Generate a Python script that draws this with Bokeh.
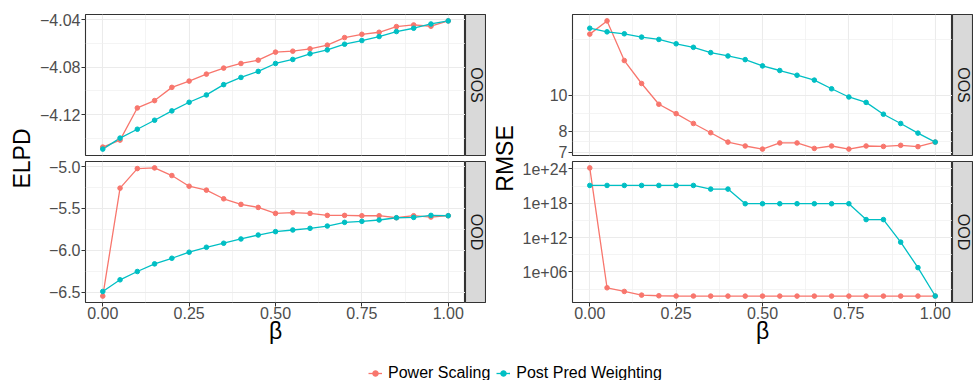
import math
from bokeh.plotting import figure
from bokeh.layouts import row, column
from bokeh.models import (Range1d, FixedTicker, CustomJSTickFormatter, Label,
                          Legend, LegendItem)
from bokeh.embed import file_html
from bokeh.resources import INLINE

# ---------------- data ----------------
beta = [0.00, 0.05, 0.10, 0.15, 0.20, 0.25, 0.30, 0.35, 0.40, 0.45, 0.50,
        0.55, 0.60, 0.65, 0.70, 0.75, 0.80, 0.85, 0.90, 0.95, 1.00]

elpd_oos_power = [-4.1475, -4.1416, -4.1144, -4.1082, -4.0970, -4.0917, -4.0858,
                  -4.0807, -4.0768, -4.0740, -4.0672, -4.0664, -4.0644, -4.0613,
                  -4.0549, -4.0521, -4.0504, -4.0456, -4.0442, -4.0453, -4.0408]
elpd_oos_ppw = [-4.1492, -4.1399, -4.1324, -4.1248, -4.1169, -4.1096, -4.1034,
                -4.0947, -4.0886, -4.0835, -4.0768, -4.0734, -4.0686, -4.0653,
                -4.0605, -4.0574, -4.0540, -4.0498, -4.0470, -4.0434, -4.0408]
elpd_ood_power = [-6.548, -5.261, -5.028, -5.020, -5.111, -5.238, -5.285,
                  -5.388, -5.455, -5.491, -5.562, -5.554, -5.562, -5.586,
                  -5.586, -5.590, -5.590, -5.614, -5.590, -5.606, -5.590]
elpd_ood_ppw = [-6.493, -6.354, -6.255, -6.164, -6.097, -6.025, -5.966,
                -5.918, -5.867, -5.820, -5.780, -5.760, -5.740, -5.713,
                -5.669, -5.657, -5.641, -5.614, -5.610, -5.586, -5.590]
rmse_oos_power = [14.66, 15.92, 12.43, 10.77, 9.46, 8.92, 8.39, 7.92, 7.47, 7.29,
                  7.15, 7.43, 7.43, 7.18, 7.29, 7.15, 7.29, 7.27, 7.32, 7.26, 7.47]
rmse_oos_ppw = [15.21, 14.87, 14.69, 14.39, 14.18, 13.80, 13.50, 13.06, 12.79, 12.50,
                12.02, 11.68, 11.34, 11.00, 10.42, 9.90, 9.57, 8.89, 8.39, 7.90, 7.47]
rmse_ood_power = [1.5e24, 1.7e3, 3.9e2, 89, 69, 62, 61, 60, 60, 60, 60,
                  60, 60, 60, 60, 60, 60, 60, 60, 60, 61]
rmse_ood_ppw = [1.3e21, 1.3e21, 1.3e21, 1.3e21, 1.3e21, 1.3e21, 1.3e21,
                3.0e20, 3.0e20, 8.3e17, 8.3e17, 8.3e17, 8.3e17, 8.3e17,
                8.3e17, 8.3e17, 1.4e15, 1.4e15, 1.6e11, 5.6e6, 62]

series_names = ["Power Scaling", "Post Pred Weighting"]
x_ticks = [0.0, 0.25, 0.5, 0.75, 1.0]
x_minor = [0.125, 0.375, 0.625, 0.875]
elpd_oos_ticks = [-4.12, -4.08, -4.04]
elpd_oos_minor = [-4.14, -4.10, -4.06]
elpd_ood_ticks = [-6.5, -6.0, -5.5, -5.0]
elpd_ood_minor = [-6.25, -5.75, -5.25]
rmse_oos_ticks = [7, 8, 10]
rmse_oos_minor = [7.483, 8.944, 14.142]
rmse_ood_ticks = [1e6, 1e12, 1e18, 1e24]
rmse_ood_minor = [1e3, 1e9, 1e15, 1e21]

# ---------------- style ----------------
RED = "#F8766D"
TEAL = "#00BFC4"
FONT = "Liberation Sans"
FRAME_H = 141
TOP_B = 14
GAP_T = 1
GAP_B = 5
BOT_B = 56
LEG_H = 380 - (TOP_B + FRAME_H + GAP_B) - (GAP_T + FRAME_H + BOT_B)
PT_SIZE = 4.6


def expand(lo, hi, f=0.05):
    d = (hi - lo) * f
    return lo - d, hi + d


xr = expand(min(beta), max(beta))


def make_panel(yp, yw, ticks, minor, fmt, log, bottom, left_b, frame_w):
    if log:
        lo, hi = expand(math.log10(min(yp + yw)), math.log10(max(yp + yw)))
        yr = Range1d(10 ** lo, 10 ** hi)
    else:
        lo, hi = expand(min(yp + yw), max(yp + yw))
        yr = Range1d(lo, hi)
    p = figure(frame_width=frame_w, frame_height=FRAME_H,
               min_border_left=left_b, min_border_right=0,
               min_border_top=(GAP_T if bottom else TOP_B),
               min_border_bottom=(BOT_B if bottom else GAP_B),
               x_range=Range1d(*xr), y_range=yr,
               y_axis_type=("log" if log else "linear"),
               toolbar_location=None, output_backend="svg")
    p.background_fill_color = "white"
    p.border_fill_color = "white"
    p.outline_line_color = "#333333"
    p.outline_line_width = 1.1

    xt = FixedTicker(ticks=x_ticks, minor_ticks=x_minor)
    yt = FixedTicker(ticks=ticks, minor_ticks=minor)
    p.xaxis.ticker = xt
    p.xgrid.ticker = xt
    p.yaxis.ticker = yt
    p.ygrid.ticker = yt
    for g in (p.xgrid, p.ygrid):
        g.grid_line_color = "#EBEBEB"
        g.grid_line_width = 1.1
        g.minor_grid_line_color = "#EFEFEF"
        g.minor_grid_line_width = 0.7
    p.yaxis.formatter = CustomJSTickFormatter(code=fmt)
    p.xaxis.formatter = CustomJSTickFormatter(code="return tick.toFixed(2);")
    for ax in p.axis:
        ax.axis_line_color = None
        ax.major_tick_line_color = "#333333"
        ax.major_tick_out = 4
        ax.major_tick_in = 0
        ax.minor_tick_line_color = None
        ax.major_label_text_font = FONT
        ax.major_label_text_font_size = "16px"
        ax.major_label_text_color = "#4D4D4D"
    p.yaxis.major_label_standoff = 1
    if bottom:
        p.xaxis.major_label_standoff = 0
        p.xaxis.axis_label = "\u03b2"
        p.xaxis.axis_label_text_font = FONT
        p.xaxis.axis_label_text_font_size = "23px"
        p.xaxis.axis_label_text_font_style = "normal"
        p.xaxis.axis_label_text_color = "black"
        p.xaxis.axis_label_standoff = -4
    else:
        p.xaxis.visible = False

    p.line(beta, yp, color=RED, line_width=1.3)
    p.line(beta, yw, color=TEAL, line_width=1.3)
    p.scatter(beta, yp, color=RED, size=PT_SIZE)
    p.scatter(beta, yw, color=TEAL, size=PT_SIZE)
    return p


def make_strip(text, bottom, w=21):
    s = figure(frame_width=w, frame_height=FRAME_H,
               min_border_left=0, min_border_right=0,
               min_border_top=(GAP_T if bottom else TOP_B),
               min_border_bottom=(BOT_B if bottom else GAP_B),
               x_range=Range1d(0, 1), y_range=Range1d(0, 1),
               x_axis_location=None, y_axis_location=None,
               toolbar_location=None, output_backend="svg")
    s.grid.visible = False
    s.background_fill_color = "#D9D9D9"
    s.border_fill_color = "white"
    s.outline_line_color = "#333333"
    s.outline_line_width = 1.1
    s.add_layout(Label(x=0.5, y=0.5, text=text, angle=-math.pi / 2,
                       text_align="center", text_baseline="middle",
                       text_font=FONT, text_font_size="16px",
                       text_color="#1A1A1A"))
    return s


def make_ylabel(text, w, cx):
    h = TOP_B + FRAME_H + GAP_B + GAP_T + FRAME_H + BOT_B
    f = figure(width=w, height=h, min_border=0,
               x_range=Range1d(0, w), y_range=Range1d(0, h),
               x_axis_location=None, y_axis_location=None,
               toolbar_location=None, output_backend="svg")
    f.grid.visible = False
    f.outline_line_color = None
    f.border_fill_color = "white"
    cy = h - (TOP_B + (FRAME_H * 2 + GAP_B + GAP_T) / 2)
    f.add_layout(Label(x=cx, y=cy, text=text, angle=math.pi / 2,
                       text_align="center", text_baseline="middle",
                       text_font=FONT, text_font_size="23px",
                       text_color="black"))
    return f


fmt2 = "return tick.toFixed(2).replace('-', '\\u2212');"
fmt1 = "return tick.toFixed(1).replace('-', '\\u2212');"
fmt_int = "return String(Math.round(tick));"
fmt_e = ("const e = Math.round(Math.log10(tick));"
         "return '1e+' + (e < 10 ? '0' + e : String(e));")

pA = make_panel(elpd_oos_power, elpd_oos_ppw, elpd_oos_ticks, elpd_oos_minor,
                fmt2, False, False, 50, 380)
pC = make_panel(elpd_ood_power, elpd_ood_ppw, elpd_ood_ticks, elpd_ood_minor,
                fmt1, False, True, 50, 380)
pB = make_panel(rmse_oos_power, rmse_oos_ppw, rmse_oos_ticks, rmse_oos_minor,
                fmt_int, True, False, 54, 380)
pD = make_panel(rmse_ood_power, rmse_ood_ppw, rmse_ood_ticks, rmse_ood_minor,
                fmt_e, True, True, 54, 380)

sA = make_strip("OOS", False)
sC = make_strip("OOD", True)
sB = make_strip("OOS", False)
sD = make_strip("OOD", True)

lblL = make_ylabel("ELPD", 35, 21)
lblR = make_ylabel("RMSE", 32, 18)

# ---------------- legend ----------------
lf = figure(width=974, height=LEG_H, min_border=0,
            x_range=Range1d(0, 1), y_range=Range1d(0, 1),
            x_axis_location=None, y_axis_location=None,
            toolbar_location=None, output_backend="svg")
lf.grid.visible = False
lf.outline_line_color = None
lf.border_fill_color = "white"
# the series themselves (they fall outside this strip's ranges; only the legend keys show)
l1 = lf.line(beta, elpd_oos_power, color=RED, line_width=1.3)
m1 = lf.scatter(beta, elpd_oos_power, color=RED, size=PT_SIZE)
l2 = lf.line(beta, elpd_oos_ppw, color=TEAL, line_width=1.3)
m2 = lf.scatter(beta, elpd_oos_ppw, color=TEAL, size=PT_SIZE)
legend = Legend(items=[LegendItem(label=series_names[0], renderers=[l1, m1]),
                       LegendItem(label=series_names[1], renderers=[l2, m2])],
                orientation="horizontal", location=(368, -2),
                padding=0, margin=0, spacing=6, label_standoff=6,
                glyph_width=14, glyph_height=14, label_height=14,
                border_line_color=None, background_fill_alpha=0,
                label_text_font=FONT, label_text_font_size="16px",
                label_text_color="black")
lf.add_layout(legend)

top = row(lblL, column(pA, pC), column(sA, sC), lblR, column(pB, pD), column(sB, sD))
page = column(top, lf)

with open("out.html", "w", encoding="utf-8") as fh:
    fh.write(file_html(page, INLINE))
